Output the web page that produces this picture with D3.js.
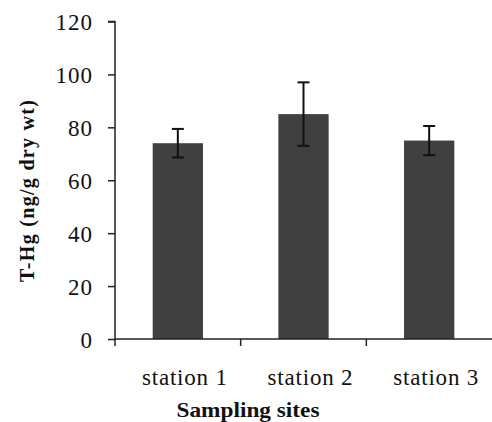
<!DOCTYPE html>
<html>
<head>
<meta charset="utf-8">
<script src="https://cdn.jsdelivr.net/npm/d3@7"></script>
<style>
  html, body { margin: 0; padding: 0; background: #fff; }
  svg { display: block; }
  svg text { font-family: "Liberation Serif", "Times New Roman", serif; }
</style>
</head>
<body>
<svg id="chart" width="492" height="422"></svg>
<script>
const categories = ["station 1", "station 2", "station 3"];
const meanValues = [74, 85, 75];
const errorValues = [5.4, 12, 5.5];
const yTicks = [0, 20, 40, 60, 80, 100, 120];
const yTitle = "T-Hg (ng/g dry wt)";
const xTitle = "Sampling sites";

const svg = d3.select("#chart");
const plotLeft = 115, plotRight = 492, plotTop = 21.5, plotBottom = 339;

const x = d3.scaleBand().domain(categories).range([plotLeft, plotRight]).paddingInner(0.6).paddingOuter(0.3);
const y = d3.scaleLinear().domain([0, 120]).range([plotBottom, plotTop]);

// bars
svg.selectAll("rect.bar").data(categories).join("rect")
  .attr("class", "bar")
  .attr("x", d => x(d))
  .attr("width", x.bandwidth())
  .attr("y", (d, i) => y(meanValues[i]))
  .attr("height", (d, i) => y(0) - y(meanValues[i]))
  .attr("fill", "#404040");

// error bars
const eb = svg.selectAll("g.err").data(categories).join("g").attr("class", "err");
eb.append("line")
  .attr("x1", d => x(d) + x.bandwidth() / 2).attr("x2", d => x(d) + x.bandwidth() / 2)
  .attr("y1", (d, i) => y(meanValues[i] - errorValues[i]))
  .attr("y2", (d, i) => y(meanValues[i] + errorValues[i]))
  .attr("stroke", "#111").attr("stroke-width", 2);
[1, -1].forEach(s => {
  eb.append("line")
    .attr("x1", d => x(d) + x.bandwidth() / 2 - 6).attr("x2", d => x(d) + x.bandwidth() / 2 + 6)
    .attr("y1", (d, i) => y(meanValues[i] + s * errorValues[i]))
    .attr("y2", (d, i) => y(meanValues[i] + s * errorValues[i]))
    .attr("stroke", "#111").attr("stroke-width", 2);
});

// y axis
const yAxis = d3.axisLeft(y).tickValues(yTicks).tickSize(7).tickPadding(15).tickFormat(d3.format("d"));
const gy = svg.append("g").attr("transform", `translate(${plotLeft},0)`).call(yAxis)
  .attr("font-family", null).attr("font-size", null);
gy.select(".domain").attr("d", `M-7,${plotTop}H0V${plotBottom}`).attr("stroke", "#222").attr("stroke-width", 1.5);
gy.selectAll(".tick line").attr("stroke", "#222").attr("stroke-width", 1.5);
gy.selectAll(".tick text").style("font-size", "23px").attr("fill", "#111")
  .style("letter-spacing", "1px").attr("dy", "0.35em");

// x axis
const boundaries = [plotLeft, ...categories.slice(1).map(c => x(c) - x.step() * x.paddingInner() / 2)];
const gx = svg.append("g").attr("transform", `translate(0,${plotBottom})`);
gx.append("line").attr("x1", plotLeft).attr("x2", plotRight).attr("y1", 0).attr("y2", 0)
  .attr("stroke", "#222").attr("stroke-width", 1.5);
gx.selectAll("line.tk").data(boundaries).join("line").attr("class", "tk")
  .attr("x1", d => d).attr("x2", d => d).attr("y1", 0).attr("y2", 7)
  .attr("stroke", "#222").attr("stroke-width", 1.5);
gx.selectAll("text.lbl").data(categories).join("text").attr("class", "lbl")
  .attr("x", d => x(d) + x.bandwidth() / 2 + 7)
  .attr("y", 46)
  .attr("text-anchor", "middle")
  .style("font-size", "23px").attr("fill", "#111")
  .style("letter-spacing", "0.8px")
  .text(d => d);

// titles
svg.append("text")
  .attr("transform", "translate(34,191) rotate(-90)")
  .attr("text-anchor", "middle")
  .style("font-weight", "bold").style("font-size", "20px").attr("fill", "#111")
  .attr("textLength", 182).attr("lengthAdjust", "spacing")
  .text(yTitle);
svg.append("text")
  .attr("x", 248).attr("y", 417)
  .attr("text-anchor", "middle")
  .style("font-weight", "bold").style("font-size", "21px").attr("fill", "#111")
  .attr("textLength", 143).attr("lengthAdjust", "spacingAndGlyphs")
  .text(xTitle);
</script>
</body>
</html>
